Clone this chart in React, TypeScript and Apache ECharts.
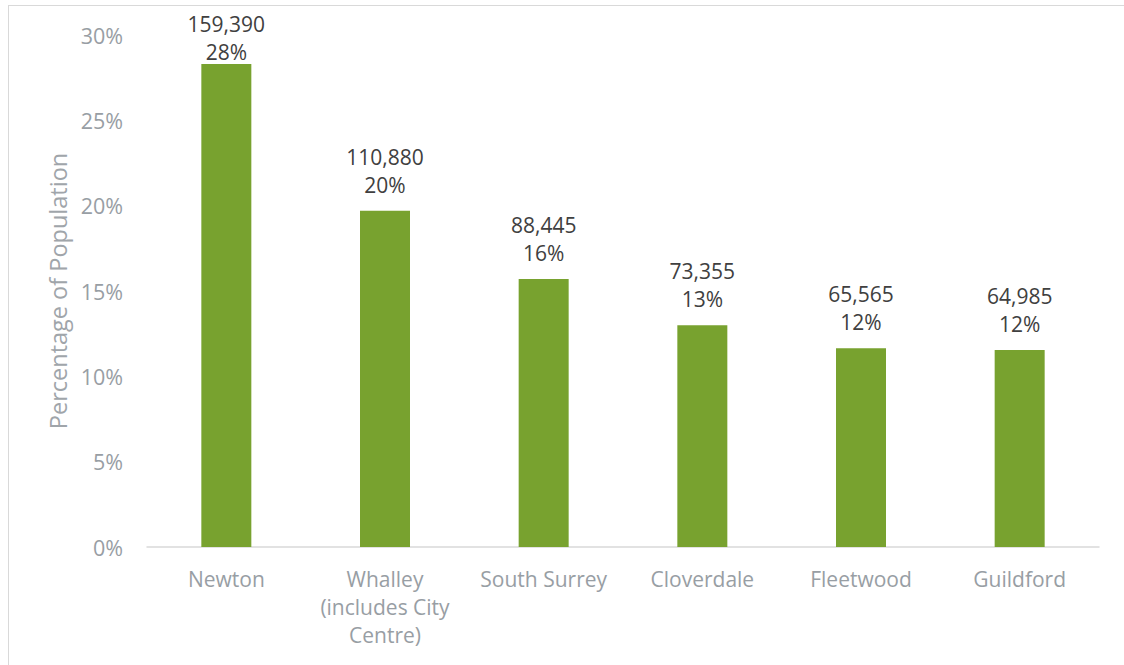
import React, { useEffect, useRef } from "react";
import * as echarts from "echarts";

const categories = ["Newton", "Whalley\n(includes City\nCentre)", "South Surrey", "Cloverdale", "Fleetwood", "Guildford"];
const percentValues = [28.3, 19.7, 15.7, 13.0, 11.65, 11.55];
const populationLabels = ["159,390", "110,880", "88,445", "73,355", "65,565", "64,985"];
const percentLabels = ["28%", "20%", "16%", "13%", "12%", "12%"];

const FONT = "'Open Sans', 'Noto Sans', sans-serif";

export default function App() {
  const ref = useRef<HTMLDivElement>(null);
  useEffect(() => {
    if (!ref.current) return;
    const chart = echarts.init(ref.current, null, { renderer: "svg" });
    const seriesData = percentValues.map((v, i) =>
      i === 0 ? { value: v, label: { distance: -2 } } : { value: v }
    );
    chart.setOption({
      animation: false,
      grid: { left: 138, top: 29, width: 952, height: 512, containLabel: false },
      xAxis: {
        type: "category",
        data: categories,
        axisLine: { lineStyle: { color: "#d9d9d9", width: 1.5 } },
        axisTick: { show: false },
        axisLabel: {
          color: "#989ea4",
          fontFamily: FONT,
          fontSize: 21,
          lineHeight: 28,
          margin: 18,
          interval: 0,
        },
      },
      yAxis: {
        type: "value",
        min: 0,
        max: 30,
        interval: 5,
        name: "Percentage of Population",
        nameLocation: "middle",
        nameGap: 74,
        nameTextStyle: { color: "#a0a5aa", fontFamily: FONT, fontSize: 23.5 },
        splitLine: { show: false },
        axisLine: { show: false },
        axisTick: { show: false },
        axisLabel: {
          color: "#989ea4",
          fontFamily: FONT,
          fontSize: 21.5,
          margin: 24,
          formatter: (v: number) => v + "%",
        },
      },
      series: [
        {
          type: "bar",
          data: seriesData,
          barWidth: 50,
          itemStyle: { color: "#78a22f" },
          label: {
            show: true,
            position: "top",
            distance: 12,
            color: "#404040",
            fontFamily: FONT,
            fontSize: 21,
            lineHeight: 28,
            formatter: (p: any) => populationLabels[p.dataIndex] + "\n" + percentLabels[p.dataIndex],
          },
        },
      ],
    });
    return () => chart.dispose();
  }, []);
  return (
    <div
      style={{
        position: "absolute",
        left: 8,
        top: 5,
        borderLeft: "1px solid #d9d9d9",
        borderTop: "1px solid #d9d9d9",
        background: "#fff",
      }}
    >
      <div ref={ref} style={{ width: 1115, height: 659 }} />
    </div>
  );
}
